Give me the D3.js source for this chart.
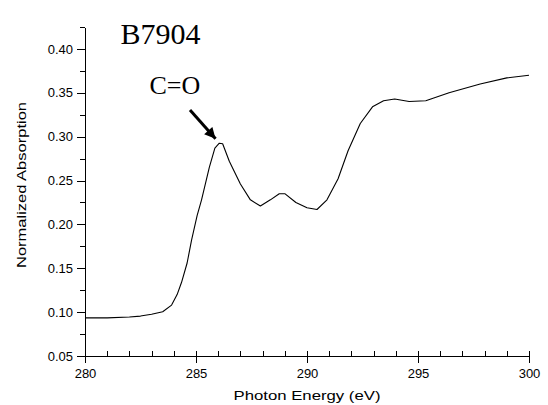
<!DOCTYPE html>
<html>
<head>
<meta charset="utf-8">
<script src="https://cdnjs.cloudflare.com/ajax/libs/d3/7.8.5/d3.min.js"></script>
<style>
	body { margin: 0; background: #fff; }
	svg { display: block; }
	.axis text { font-family: "Liberation Sans", Arial, sans-serif; font-size: 13px; fill: #000; }
	.axis path, .axis line { stroke: #000; stroke-width: 1px; shape-rendering: crispEdges; }
	.axis_label { font-family: "Liberation Sans", Arial, sans-serif; font-size: 13px; fill: #000; }
	.serif { font-family: "Liberation Serif", "Times New Roman", serif; fill: #000; }
</style>
</head>
<body>
<div id="chart"></div>
<script>
// photon energy (eV) and normalized absorption
var energy = [280, 281, 282, 282.5, 283, 283.5, 283.9, 284.15, 284.35, 284.6, 284.8, 285.05, 285.25, 285.6, 285.85, 286.05, 286.2, 286.5, 287.0, 287.45, 287.9, 288.35, 288.75, 289.0, 289.5, 290.0, 290.45, 290.9, 291.4, 291.85, 292.4, 292.95, 293.45, 293.95, 294.6, 295.35, 296.4, 297.8, 299.0, 300];
var absorption = [0.0935, 0.0935, 0.0945, 0.0955, 0.0975, 0.1005, 0.108, 0.120, 0.134, 0.156, 0.182, 0.210, 0.228, 0.265, 0.287, 0.2925, 0.292, 0.272, 0.246, 0.228, 0.221, 0.228, 0.235, 0.235, 0.225, 0.219, 0.217, 0.228, 0.252, 0.284, 0.315, 0.334, 0.341, 0.343, 0.340, 0.341, 0.350, 0.360, 0.367, 0.370];

var xTicks = [280, 285, 290, 295, 300];
var xMinor = d3.range(280, 300.5, 1);
var yTicks = [0.05, 0.10, 0.15, 0.20, 0.25, 0.30, 0.35, 0.40];
var yMinor = [0.075, 0.125, 0.175, 0.225, 0.275, 0.325, 0.375, 0.425];

// annotations: sample name, peak label and the arrow pointing at the peak
var sampleName = "B7904";
var peakLabel = "C=O";
var peakLabelAt = [284.05, 0.349];
var sampleAt = [283.4, 0.406];
var arrowFrom = [284.73, 0.3305];
var arrowTo = [285.88, 0.2975];

var W = 548, H = 405;
var margin = { top: 27, right: 19, bottom: 49, left: 85 };
var width = W - margin.left - margin.right,
	height = H - margin.top - margin.bottom;

var svg = d3.select("#chart").append("svg")
	.attr("width", W)
	.attr("height", H);

var x = d3.scaleLinear().domain([280, 300]).range([0, width]);
var y = d3.scaleLinear().domain([0.05, 0.425]).range([height, 0]);

var g = svg.append("g")
	.attr("transform", "translate(" + margin.left + "," + margin.top + ")");

// minor ticks first (x inward, y outward), no labels
g.append("g")
	.attr("class", "x axis minor")
	.attr("transform", "translate(0," + height + ")")
	.call(d3.axisBottom(x).tickValues(xMinor).tickSize(-5).tickSizeOuter(0).tickFormat(""))
	.select(".domain").remove();

g.append("g")
	.attr("class", "y axis minor")
	.call(d3.axisLeft(y).tickValues(yMinor).tickSize(5).tickSizeOuter(0).tickFormat(""))
	.select(".domain").remove();

// major axes with labels
g.append("g")
	.attr("class", "x axis")
	.attr("transform", "translate(0," + height + ")")
	.call(d3.axisBottom(x).tickValues(xTicks).tickSize(7).tickSizeOuter(0).tickPadding(6).tickFormat(d3.format("d")));

g.append("g")
	.attr("class", "y axis")
	.call(d3.axisLeft(y).tickValues(yTicks).tickSize(8).tickSizeOuter(0).tickPadding(4).tickFormat(d3.format(".2f")));

// axis titles
svg.append("text")
	.attr("class", "axis_label")
	.attr("x", 307)
	.attr("y", 400)
	.attr("text-anchor", "middle")
	.attr("textLength", 147)
	.attr("lengthAdjust", "spacingAndGlyphs")
	.text("Photon Energy (eV)");

svg.append("text")
	.attr("class", "axis_label")
	.attr("transform", "translate(26,185)rotate(-90)")
	.attr("text-anchor", "middle")
	.attr("textLength", 166)
	.attr("lengthAdjust", "spacingAndGlyphs")
	.text("Normalized Absorption");

// the spectrum
var pts = energy.map(function(e, i) { return [e, absorption[i]]; });

var line = d3.line()
	.x(function(d) { return x(d[0]); })
	.y(function(d) { return y(d[1]); });

g.append("path")
	.datum(pts)
	.attr("fill", "none")
	.attr("stroke", "#000")
	.attr("stroke-width", 1.1)
	.attr("stroke-linejoin", "round")
	.attr("d", line);

// arrow
svg.append("defs").append("marker")
	.attr("id", "head")
	.attr("viewBox", "0 0 10 10")
	.attr("refX", 10)
	.attr("refY", 5)
	.attr("markerWidth", 12)
	.attr("markerHeight", 11)
	.attr("markerUnits", "userSpaceOnUse")
	.attr("orient", "auto")
	.append("path")
	.attr("d", "M0,0L10,5L0,10z")
	.attr("fill", "#000");

g.append("line")
	.attr("x1", x(arrowFrom[0]))
	.attr("y1", y(arrowFrom[1]))
	.attr("x2", x(arrowTo[0]))
	.attr("y2", y(arrowTo[1]))
	.attr("stroke", "#000")
	.attr("stroke-width", 3)
	.attr("marker-end", "url(#head)");

g.append("text")
	.attr("class", "serif")
	.attr("x", x(peakLabelAt[0]))
	.attr("y", y(peakLabelAt[1]))
	.attr("text-anchor", "middle")
	.style("font-size", "26px")
	.text(peakLabel);

g.append("text")
	.attr("class", "serif")
	.attr("x", x(sampleAt[0]))
	.attr("y", y(sampleAt[1]))
	.attr("text-anchor", "middle")
	.style("font-size", "30px")
	.text(sampleName);
</script>
</body>
</html>
